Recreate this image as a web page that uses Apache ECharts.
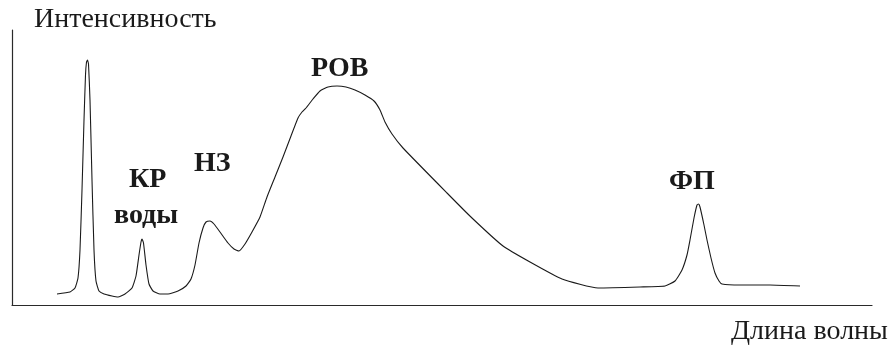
<!DOCTYPE html>
<html>
<head>
<meta charset="utf-8">
<script src="https://cdn.jsdelivr.net/npm/echarts@6/dist/echarts.min.js"></script>
<style>
html,body{margin:0;padding:0;background:#fff;}
#chart{width:892px;height:347px;}
</style>
</head>
<body>
<div id="chart"></div>
<script>
// Wavelength (arbitrary units) and intensity (arbitrary units)
var wavelength = [45,58,63,66,68,70,72,73.5,74.5,75.5,76.5,78,80,82,84,87,92,100,106,113,120,124,127,129,130,131.5,134,137,141,148,156,166,174,179,183,187,191,194,198,202,208,216,222,227,233,240,248,255,263,271,279,286,290,294,301,308,316,325,334,343,353,362,368,373,380,391,435,460,491,518,550,586,628,653,663,670,675,678,682,685,686.5,688,692,695,699,703,707,710,728,758,788];
var intensity = [11,13,17,27,55,115,185,230,243,245,241,205,125,55,24,14,11,9,8,11,17,29,50,63,66,62,40,21,14,11,11,14,19,26,40,62,77,83,84,81,73,62,56,54,61,73,88,108,128,148,169,187,193,197,206,214,218,219,218,215,210,204,195,183,171,157,112,87,59,43,26,17,18,19,24,35,50,65,87,100,101,98,80,65,47,32,24,21,20,20,19];
var axisNames = {y: 'Интенсивность', x: 'Длина волны'};
var peakLabels = ['КР', 'воды', 'НЗ', 'РОВ', 'ФП'];

var seriesData = wavelength.map(function (w, i) { return [w, intensity[i]]; });

var chart = echarts.init(document.getElementById('chart'), null, {renderer: 'canvas'});
var serif = '"Liberation Serif","Times New Roman",serif';
chart.setOption({
  animation: false,
  backgroundColor: '#ffffff',
  grid: {left: 12, right: 20, top: 30, bottom: 42},
  xAxis: {
    type: 'value', min: 0, max: 860,
    axisLine: {show: true, lineStyle: {color: '#2a2a2a', width: 1.2}},
    axisTick: {show: false}, axisLabel: {show: false}, splitLine: {show: false}
  },
  yAxis: {
    type: 'value', min: 0, max: 275,
    axisLine: {show: true, lineStyle: {color: '#2a2a2a', width: 1.2}},
    axisTick: {show: false}, axisLabel: {show: false}, splitLine: {show: false}
  },
  series: [{
    type: 'line',
    data: seriesData,
    smooth: 0.15,
    showSymbol: false,
    lineStyle: {color: '#1a1a1a', width: 1.1, join: 'round'}
  }],
  graphic: [
    {type: 'text', left: 34, top: 6, style: {text: axisNames.y, font: '28px ' + serif, fill: '#1a1a1a'}},
    {type: 'text', left: 731, top: 318, style: {text: axisNames.x, font: '28px ' + serif, fill: '#1a1a1a'}},
    {type: 'text', left: 129, top: 166, style: {text: peakLabels[0], font: 'bold 28px ' + serif, fill: '#1a1a1a'}},
    {type: 'text', left: 114, top: 202, style: {text: peakLabels[1], font: 'bold 28px ' + serif, fill: '#1a1a1a'}},
    {type: 'text', left: 194, top: 150, style: {text: peakLabels[2], font: 'bold 28px ' + serif, fill: '#1a1a1a'}},
    {type: 'text', left: 311, top: 55, style: {text: peakLabels[3], font: 'bold 28px ' + serif, fill: '#1a1a1a'}},
    {type: 'text', left: 669, top: 168, style: {text: peakLabels[4], font: 'bold 28px ' + serif, fill: '#1a1a1a'}}
  ]
});
</script>
</body>
</html>
